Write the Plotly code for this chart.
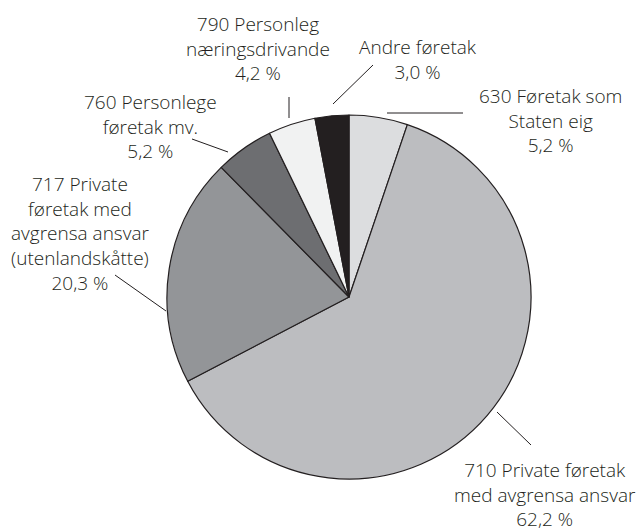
import plotly.graph_objects as go

W, H = 642, 531

labels = ["630 Føretak som<br>Staten eig", "710 Private føretak<br>med avgrensa ansvar",
          "717 Private<br>føretak med<br>avgrensa ansvar<br>(utenlandskåtte)",
          "760 Personlege<br>føretak mv.", "790 Personleg<br>næringsdrivande", "Andre føretak"]
values = [5.2, 62.2, 20.3, 5.2, 4.2, 3.0]
value_text = ["5,2 %", "62,2 %", "20,3 %", "5,2 %", "4,2 %", "3,0 %"]
colors = ["#dcdddf", "#bcbdc0", "#939598", "#6d6e71", "#f1f2f2", "#231f20"]

# label centres (pixels) and leader lines (pixels)
label_pos = [(550, 120), (545, 494), (80, 233), (150, 126), (258, 48), (418, 60)]
leaders = [((387, 113), (463, 113)), ((497, 412), (531, 445)), ((115, 275), (166, 311)),
           ((192, 139), (228, 152)), ((289, 97), (289, 118)), ((373, 65), (333, 104))]

cx, cy, r = 349, 297, 182

def px(x):
    return x / W

def py(y):
    return 1 - y / H

fig = go.Figure(go.Pie(
    labels=[l.replace("<br>", " ") for l in labels],
    values=values,
    sort=False,
    direction="clockwise",
    rotation=0,
    marker=dict(colors=colors, line=dict(color="#231f20", width=1.2)),
    textinfo="none",
    hoverinfo="label+value",
    showlegend=False,
    domain=dict(x=[px(cx - r), px(cx + r)], y=[py(cy + r), py(cy - r)]),
))

font = dict(family="Open Sans, Noto Sans, sans-serif", size=19, color="#231f20", weight=300)
for lab, vt, (x, y) in zip(labels, value_text, label_pos):
    fig.add_annotation(x=px(x), y=py(y), xref="paper", yref="paper",
                       text=f"{lab}<br>{vt}", showarrow=False, align="center",
                       xanchor="center", yanchor="middle", font=font)

for (x0, y0), (x1, y1) in leaders:
    fig.add_shape(type="line", xref="paper", yref="paper",
                  x0=px(x0), y0=py(y0), x1=px(x1), y1=py(y1),
                  line=dict(color="#231f20", width=1))

fig.update_layout(width=W, height=H, margin=dict(l=0, r=0, t=0, b=0),
                  paper_bgcolor="white", plot_bgcolor="white")
fig.write_html("out.html", config={"displayModeBar": False},
               post_script="document.body.style.margin='0';document.body.style.overflow='hidden';")
